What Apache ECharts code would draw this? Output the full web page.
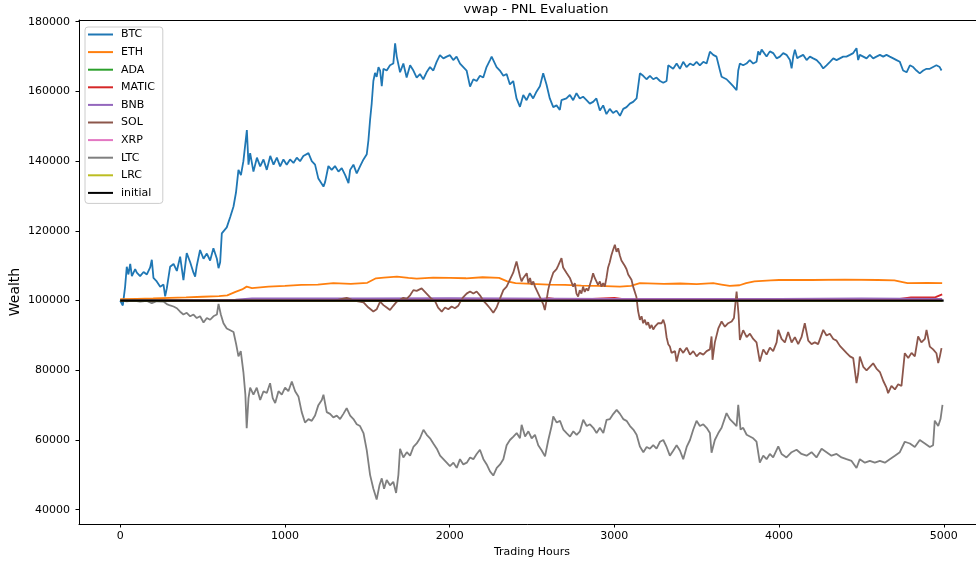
<!DOCTYPE html>
<html>
<head>
<meta charset="utf-8">
<script src="https://cdn.jsdelivr.net/npm/echarts@6/dist/echarts.min.js"></script>
<style>html,body{margin:0;padding:0;background:#fff}#c{width:976px;height:563px}</style>
</head>
<body>
<div id="c"></div>
<script>
const seriesNames = ['BTC','ETH','ADA','MATIC','BNB','SOL','XRP','LTC','LRC','initial'];
const hourTicks = [0,1000,2000,3000,4000,5000];
const wealthTicks = [40000,60000,80000,100000,120000,140000,160000,180000];

const BTC = [[0,100000],[16,98600],[30,104000],[40,109700],[50,107500],[61,110500],[71,107000],[81,106900],[91,109000],[101,108000],[121,107000],[142,108200],[162,107500],[182,109500],[192,111700],[202,106500],[222,105500],[243,104000],[263,104600],[273,101200],[283,103500],[303,109700],[324,110500],[344,108500],[364,112600],[384,105900],[404,113600],[425,111000],[445,108000],[455,106900],[465,110000],[485,114500],[506,112000],[526,113500],[546,111500],[566,115000],[587,112000],[597,109300],[607,111000],[617,119300],[647,121000],[668,124000],[688,127000],[703,131000],[718,137500],[733,136000],[748,140000],[769,148900],[779,139000],[789,142300],[809,137000],[830,141000],[850,138500],[870,140500],[890,137500],[911,141500],[931,139000],[951,141000],[971,138500],[991,140500],[1011,139000],[1031,140500],[1052,139500],[1072,141000],[1092,140000],[1112,141500],[1143,142300],[1163,140000],[1183,139000],[1203,135000],[1234,132700],[1244,134000],[1264,138600],[1284,137500],[1304,138600],[1325,137000],[1345,138000],[1366,136000],[1386,133700],[1396,137500],[1416,139000],[1436,136500],[1456,138500],[1477,140500],[1497,142000],[1507,146000],[1517,151800],[1527,156600],[1537,163000],[1547,165300],[1557,164200],[1568,167000],[1578,166000],[1588,161500],[1598,166500],[1618,166000],[1638,167500],[1658,168000],[1669,173800],[1679,170000],[1699,165500],[1719,168000],[1739,164000],[1760,167500],[1780,166000],[1800,164000],[1820,165000],[1840,163500],[1860,165500],[1881,167000],[1901,166000],[1921,168500],[1941,170400],[1962,169500],[1982,170000],[2002,170400],[2022,169000],[2042,170000],[2063,168000],[2083,167000],[2103,166000],[2124,161400],[2144,163500],[2164,163000],[2184,164500],[2204,164000],[2224,167000],[2245,169000],[2255,170000],[2265,169000],[2285,167000],[2305,166000],[2326,164500],[2346,165000],[2366,162000],[2386,163000],[2406,158000],[2427,155600],[2447,159000],[2467,157500],[2487,159500],[2507,158000],[2528,160000],[2548,161500],[2568,165200],[2588,162000],[2608,158000],[2629,155500],[2649,156000],[2669,154700],[2679,157500],[2689,157000],[2709,158000],[2730,159000],[2750,157500],[2770,159500],[2790,158000],[2810,158500],[2831,157500],[2851,156500],[2871,157000],[2891,158000],[2912,154500],[2932,156000],[2952,153500],[2972,155000],[2992,153800],[3013,154500],[3034,153000],[3054,155000],[3074,155500],[3094,156500],[3114,157000],[3135,158000],[3155,165200],[3175,164500],[3195,163500],[3216,164500],[3236,163500],[3256,164000],[3277,163000],[3297,162500],[3317,163000],[3327,167500],[3337,168000],[3357,166500],[3378,168000],[3398,166500],[3418,168500],[3438,167000],[3459,168000],[3479,167500],[3499,168500],[3519,167500],[3540,168500],[3560,168000],[3580,171400],[3600,170500],[3620,170000],[3641,166000],[3651,164200],[3661,164000],[3681,163500],[3701,162500],[3721,161500],[3742,160400],[3752,166000],[3762,168000],[3782,167500],[3802,168000],[3822,169000],[3843,168000],[3863,168500],[3873,171500],[3883,170500],[3894,172000],[3924,170000],[3944,171500],[3964,171000],[3985,169500],[4005,170000],[4025,171000],[4045,170500],[4066,169000],[4076,166600],[4086,170000],[4096,172000],[4110,169500],[4126,170000],[4146,170500],[4167,169000],[4187,170000],[4207,169500],[4228,169000],[4248,168000],[4268,166600],[4288,167500],[4309,168500],[4329,169500],[4349,169000],[4369,169500],[4389,170000],[4409,170000],[4430,170500],[4450,171000],[4470,172400],[4480,169000],[4490,170500],[4511,170000],[4531,169500],[4551,170500],[4571,169500],[4591,170000],[4612,170500],[4632,170000],[4652,170500],[4672,170000],[4693,169500],[4713,169000],[4733,168500],[4753,166000],[4774,165500],[4784,165700],[4794,167500],[4814,167000],[4834,166000],[4854,165200],[4875,166000],[4895,166500],[4915,166500],[4935,167000],[4955,167500],[4975,167000],[4986,166000]];

const ETH = [[0,100400],[100,100500],[200,100600],[300,100800],[400,100900],[500,101100],[600,101300],[650,101500],[700,102500],[740,103200],[768,104000],[800,103600],[900,104000],[1000,104200],[1100,104500],[1200,104600],[1294,105000],[1400,104800],[1500,105100],[1553,106400],[1600,106600],[1680,106900],[1750,106500],[1800,106300],[1900,106600],[2000,106500],[2100,106400],[2200,106700],[2300,106500],[2350,105500],[2400,105000],[2500,104800],[2600,104600],[2700,104500],[2800,104300],[2900,104200],[3034,104000],[3100,104200],[3155,105000],[3300,104800],[3400,104900],[3500,104700],[3600,105000],[3650,104600],[3700,104200],[3760,104400],[3800,105000],[3850,105500],[3950,105800],[4000,105900],[4200,105900],[4400,106000],[4600,105900],[4700,105800],[4750,105300],[4780,105000],[4900,105100],[4990,105000]];

const ADA = [[0,100000],[1000,99900],[2000,100000],[3000,99900],[4000,100000],[4990,100000]];

const MATIC = [[0,100000],[2500,100000],[2600,100700],[2700,100100],[3000,100800],[3100,100100],[4700,100300],[4800,100900],[4950,101000],[4990,101800]];

const BNB = [[0,100000],[600,100100],[700,100300],[800,100600],[1500,100600],[2000,100700],[3000,100500],[4000,100500],[4500,100600],[4990,100500]];

const SOL = [[0,100000],[500,100000],[1000,100000],[1300,100000],[1375,100800],[1420,100000],[1477,99500],[1507,98000],[1537,96850],[1557,97500],[1578,99700],[1598,98700],[1618,98000],[1638,97300],[1658,98500],[1679,99700],[1699,100200],[1719,100800],[1739,100500],[1760,101500],[1780,103000],[1800,102800],[1830,103500],[1850,102500],[1870,101500],[1890,100500],[1910,100000],[1930,98000],[1952,96850],[1972,98000],[1992,97500],[2012,98300],[2032,97800],[2052,98500],[2063,99500],[2083,101000],[2103,102000],[2124,102600],[2144,102000],[2164,102600],[2184,101500],[2204,100000],[2224,99000],[2245,97800],[2265,96500],[2285,98000],[2305,100500],[2326,103000],[2346,104000],[2366,106000],[2386,108000],[2406,111200],[2427,107000],[2437,105500],[2447,106500],[2468,107850],[2478,105000],[2488,106500],[2498,104500],[2508,105500],[2518,104000],[2528,103500],[2548,101000],[2568,99000],[2578,97300],[2588,100000],[2598,103000],[2608,105000],[2618,106500],[2629,108000],[2649,109000],[2659,110000],[2679,112150],[2689,109500],[2699,110000],[2709,108000],[2730,106500],[2750,104000],[2760,105000],[2770,102000],[2780,101150],[2790,103000],[2800,102000],[2810,104000],[2820,102500],[2831,103500],[2841,102800],[2851,104500],[2861,106000],[2871,107850],[2881,106500],[2891,106000],[2901,104500],[2912,105500],[2922,104000],[2932,105000],[2942,104000],[2952,106500],[2962,109500],[2972,111000],[2982,113000],[2992,114500],[3003,116000],[3013,114000],[3023,115000],[3033,113000],[3043,111500],[3053,112000],[3063,110000],[3074,109000],[3084,107500],[3094,108000],[3104,106000],[3114,104000],[3124,103500],[3134,101000],[3144,97000],[3155,94450],[3165,95500],[3175,93500],[3185,94500],[3195,93000],[3205,93800],[3216,92000],[3226,93000],[3236,91700],[3246,92500],[3256,92800],[3266,93500],[3276,94000],[3287,93500],[3297,94500],[3307,93000],[3317,89500],[3327,87500],[3337,86800],[3347,85000],[3357,84500],[3368,85500],[3378,82500],[3388,84500],[3398,86350],[3418,85000],[3439,86500],[3459,84500],[3479,85500],[3499,84000],[3519,85000],[3540,84500],[3560,85500],[3580,86000],[3590,89700],[3596,83000],[3610,88000],[3631,92000],[3651,94000],[3671,92500],[3691,93500],[3712,94000],[3726,95000],[3742,102600],[3754,96000],[3762,88700],[3782,91500],[3803,89500],[3823,90500],[3843,89000],[3863,88000],[3883,82500],[3904,86000],[3924,84500],[3944,86500],[3964,85500],[3985,88000],[3995,91600],[4015,89000],[4035,88000],[4055,91000],[4076,88000],[4096,89500],[4116,87500],[4136,89500],[4156,93500],[4177,88500],[4197,87500],[4217,88000],[4237,87500],[4268,91600],[4288,90000],[4308,90500],[4329,89000],[4349,88500],[4369,87000],[4389,86000],[4409,85000],[4430,84000],[4450,83500],[4470,76300],[4480,79000],[4490,83950],[4511,81000],[4531,80000],[4551,81000],[4571,82000],[4591,80500],[4612,79500],[4632,77000],[4652,75000],[4662,73450],[4682,75500],[4703,74500],[4723,76000],[4743,75500],[4763,84900],[4784,83500],[4804,85000],[4824,84000],[4844,89700],[4864,88000],[4885,89000],[4895,91600],[4915,86800],[4935,86000],[4955,84900],[4966,82050],[4976,84000],[4986,86350]];

const XRP = [[0,100000],[1500,100200],[3000,100300],[4990,100200]];

const LTC = [[0,100000],[40,99800],[81,100000],[121,99700],[162,99900],[192,99250],[222,99800],[263,99700],[283,99000],[303,98600],[324,98300],[344,97800],[364,96800],[384,96000],[404,96500],[425,95500],[445,96000],[465,95000],[485,95500],[506,93700],[526,95000],[546,94500],[566,95500],[587,96000],[597,99050],[611,96000],[627,93500],[647,92000],[668,91500],[688,91000],[704,87500],[718,84000],[732,85500],[748,79500],[760,73000],[768,63400],[779,72000],[789,75000],[809,73000],[829,75000],[850,71500],[870,74000],[890,73500],[910,76300],[926,72000],[941,70600],[961,74000],[981,73000],[1001,75000],[1021,74000],[1042,76800],[1062,74000],[1082,72500],[1102,68000],[1122,65000],[1143,66000],[1163,65500],[1183,67000],[1203,70000],[1224,71500],[1234,73000],[1254,68000],[1274,67500],[1294,66500],[1315,67000],[1335,66000],[1355,67500],[1375,69150],[1396,67000],[1416,66000],[1436,64500],[1456,64000],[1477,62000],[1497,57000],[1517,50000],[1537,46000],[1547,44500],[1557,42900],[1574,47000],[1588,49000],[1602,46000],[1618,48500],[1638,47000],[1658,48000],[1675,44800],[1689,50000],[1699,57500],[1719,55000],[1740,56500],[1760,55500],[1780,58000],[1800,59000],[1820,60500],[1841,62950],[1861,61500],[1881,60500],[1901,59000],[1922,57500],[1942,55500],[1962,54500],[1982,53500],[2002,52500],[2023,53500],[2043,52000],[2063,54500],[2083,53000],[2104,53500],[2124,55000],[2144,54500],[2164,56000],[2184,57200],[2205,54500],[2225,53000],[2245,51000],[2265,49800],[2286,52000],[2306,53000],[2326,54500],[2346,58500],[2366,60000],[2387,61000],[2407,62000],[2427,60500],[2437,64350],[2458,61000],[2478,62500],[2498,60500],[2518,61500],[2538,58500],[2559,57000],[2579,55300],[2599,60000],[2619,64000],[2629,66750],[2650,65000],[2670,65500],[2690,63000],[2710,62000],[2731,61000],[2751,62500],[2771,61500],[2791,62500],[2811,65800],[2832,64000],[2852,64500],[2872,63500],[2892,62000],[2912,63500],[2933,62000],[2953,65800],[2973,66000],[2994,67500],[3014,68650],[3034,67500],[3054,66000],[3074,65500],[3095,64000],[3115,63000],[3135,61500],[3155,58150],[3176,56500],[3196,58000],[3216,57500],[3236,58500],[3256,57500],[3277,59500],[3297,60000],[3317,58000],[3337,55500],[3358,57000],[3378,58500],[3398,57000],[3418,54500],[3439,58000],[3459,60000],[3479,63000],[3499,65500],[3519,64000],[3540,64500],[3560,63500],[3580,62000],[3590,56350],[3610,60000],[3631,62000],[3651,63500],[3681,67700],[3701,66000],[3722,65000],[3742,64000],[3752,70100],[3766,63000],[3782,63500],[3803,61500],[3823,61000],[3843,60500],[3863,59500],[3883,53500],[3904,55500],[3924,54500],[3944,56000],[3964,55000],[3995,58150],[4015,56000],[4045,55000],[4076,56500],[4106,57200],[4136,56000],[4167,55500],[4197,56500],[4227,55000],[4258,57500],[4288,56500],[4318,55500],[4349,56000],[4379,55000],[4409,54500],[4440,54000],[4470,51950],[4490,54500],[4521,53500],[4551,54000],[4581,53500],[4612,54000],[4642,53500],[4672,54500],[4703,55500],[4733,56500],[4763,59500],[4794,59000],[4824,58000],[4854,60000],[4885,59000],[4915,58000],[4935,58500],[4945,65550],[4966,64000],[4980,66000],[4992,70100]];

const LRC = [[0,100000],[2500,99900],[4990,99900]];

const initial = [[0,100000],[4999,100000]];

const seriesData = [BTC, ETH, ADA, MATIC, BNB, SOL, XRP, LTC, LRC, initial];
const colors = ['#1f77b4','#ff7f0e','#2ca02c','#d62728','#9467bd','#8c564b','#e377c2','#7f7f7f','#bcbd22','#000000'];

const FONT = 'DejaVu Sans';
const chart = echarts.init(document.getElementById('c'), null, {renderer: 'canvas'});
chart.setOption({
  animation: false,
  backgroundColor: '#ffffff',
  color: colors,
  title: {
    text: 'vwap - PNL Evaluation',
    left: 531, top: -2, textAlign: 'center',
    textStyle: {fontFamily: FONT, fontSize: 13, fontWeight: 'normal', color: '#000'}
  },
  grid: {left: 79, top: 20, width: 906, height: 504, show: false, outerBoundsMode: 'none', containLabel: false},
  legend: {
    data: seriesNames,
    orient: 'vertical',
    left: 85, top: 27,
    padding: [1, 8, 4, 3],
    itemGap: 4.6,
    itemWidth: 25, itemHeight: 2,
    icon: 'rect',
    backgroundColor: 'rgba(255,255,255,0.8)',
    borderColor: '#cccccc', borderWidth: 1, borderRadius: 3,
    textStyle: {fontFamily: FONT, fontSize: 11, color: '#000', lineHeight: 13, padding: [0,0,0,3]}
  },
  xAxis: [{
    type: 'value', min: -250, max: 5250, position: 'bottom',
    name: 'Trading Hours', nameLocation: 'middle', nameGap: 22,
    nameTextStyle: {fontFamily: FONT, fontSize: 11, color: '#000'},
    axisLine: {show: true, onZero: false, lineStyle: {color: '#000', width: 1}},
    axisTick: {show: true, length: 3.5, lineStyle: {color: '#000'}, customValues: hourTicks},
    axisLabel: {fontFamily: FONT, fontSize: 11, color: '#000', margin: 7, customValues: hourTicks, formatter: v => String(v)},
    splitLine: {show: false}
  }, {
    type: 'value', min: -250, max: 5250, position: 'top',
    axisLine: {show: true, onZero: false, lineStyle: {color: '#000', width: 1}},
    axisTick: {show: false}, axisLabel: {show: false}, splitLine: {show: false}
  }],
  yAxis: {
    type: 'value', min: 35900, max: 180500, position: 'left',
    axisLine: {show: true, onZero: false, lineStyle: {color: '#000', width: 1}},
    axisTick: {show: true, length: 3.5, lineStyle: {color: '#000'}, customValues: wealthTicks},
    axisLabel: {fontFamily: FONT, fontSize: 11, color: '#000', margin: 9, customValues: wealthTicks, formatter: v => String(v)},
    splitLine: {show: false}
  },
  graphic: [{
    type: 'text', x: 15, y: 292, rotation: Math.PI / 2,
    style: {text: 'Wealth', fontFamily: FONT, fontSize: 14, fill: '#000', align: 'center', verticalAlign: 'middle'}
  }],
  series: seriesNames.map((n, i) => ({
    name: n, type: 'line', data: seriesData[i], xAxisIndex: 0,
    showSymbol: false, symbol: 'none',
    lineStyle: {width: n === 'initial' ? 2.2 : 1.8, color: colors[i]},
    itemStyle: {color: colors[i]},
    emphasis: {disabled: true},
    z: 2
  }))
});
</script>
</body>
</html>
